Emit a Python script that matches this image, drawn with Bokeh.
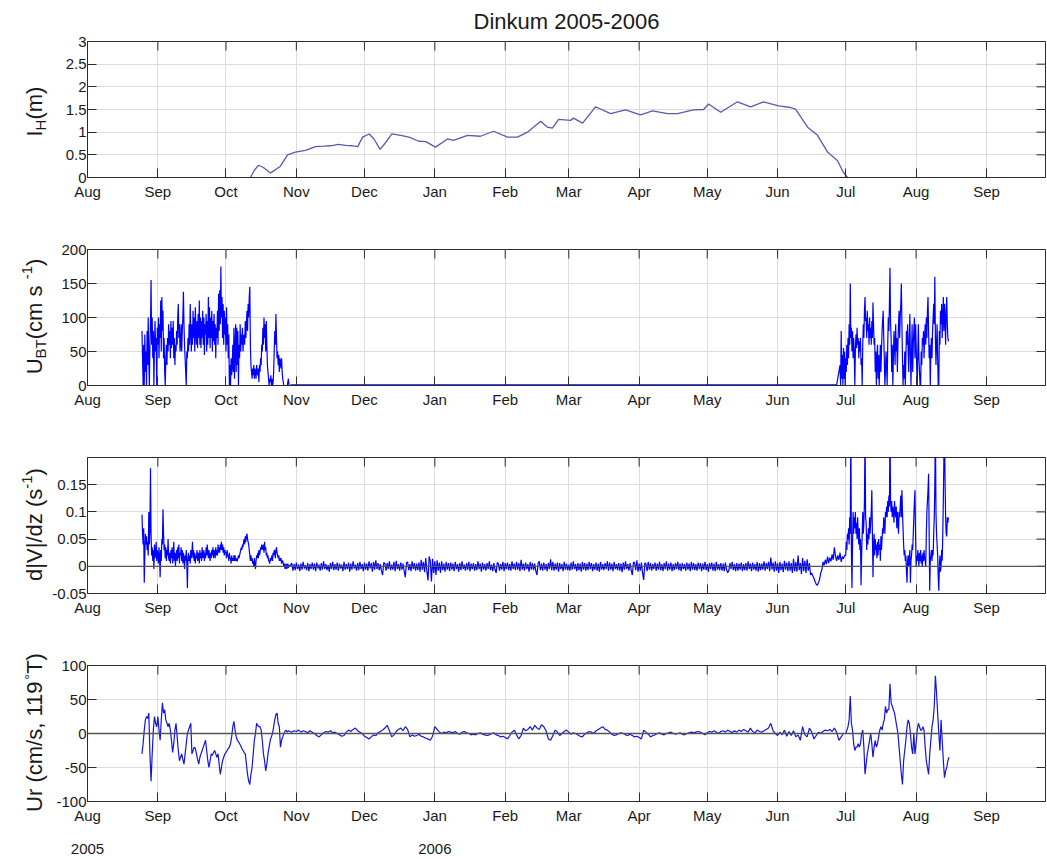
import math
import numpy as np
from bokeh.plotting import figure
from bokeh.models import Range1d, FixedTicker, LinearAxis, Span, PrintfTickFormatter
from bokeh.layouts import column, row
from bokeh.embed import file_html
from bokeh.resources import INLINE
from bokeh.core.properties import value

# ---------------- data (time in days since 1 Aug 2005) ----------------
month_days = [0, 31, 61, 92, 122, 153, 184, 212, 243, 273, 304, 334, 365, 396]
month_labels = ["Aug", "Sep", "Oct", "Nov", "Dec", "Jan", "Feb", "Mar", "Apr",
                "May", "Jun", "Jul", "Aug", "Sep"]
year_days = [0, 153]
year_labels = ["2005", "2006"]
x_start, x_end = 0.0, 422.0

title_text = "Dinkum 2005-2006"

# Panel 1: ice thickness I_H (m)
ih_day = [71.8, 73.5, 75.3, 77.5, 80.6, 83.0, 85.0, 88.1, 91.6, 96.0, 100.4, 104.0,
          107.0, 110.5, 113.7, 116.7, 119.0, 121.2, 124.1, 126.2, 128.9, 131.0, 134.1,
          138.0, 141.6, 146.0, 149.0, 153.3, 158.6, 161.2, 167.4, 173.1, 178.9, 185.0,
          189.4, 193.8, 199.6, 202.6, 204.8, 207.5, 212.8, 214.1, 218.1, 223.8, 230.4,
          237.0, 243.6, 248.9, 255.5, 259.9, 266.9, 271.4, 273.6, 278.9, 286.3, 292.1,
          297.8, 304.4, 309.0, 311.9, 317.2, 321.6, 326.0, 330.4, 333.0, 334.8]
ih_m = [0.0, 0.16, 0.27, 0.22, 0.10, 0.18, 0.25, 0.50, 0.56, 0.60, 0.68, 0.69,
        0.70, 0.73, 0.71, 0.70, 0.68, 0.89, 0.96, 0.85, 0.62, 0.75, 0.96,
        0.93, 0.89, 0.80, 0.79, 0.67, 0.85, 0.82, 0.93, 0.91, 1.02, 0.89,
        0.89, 1.00, 1.24, 1.11, 1.09, 1.28, 1.26, 1.31, 1.20, 1.56, 1.41,
        1.49, 1.38, 1.47, 1.41, 1.41, 1.49, 1.50, 1.62, 1.44, 1.67, 1.56,
        1.67, 1.58, 1.55, 1.51, 1.11, 0.93, 0.56, 0.37, 0.11, 0.0]

# Panel 2: U_BT (cm/s)  -- burst 1 (6-hourly from day 24.0)
ubt_a_start, ubt_a_step = 24.0, 0.25
ubt_a = [80, 40, 0, 60, 0, 75, 20, 50, 0, 80, 30, 100, 40, 0, 60, 90,
         155, 60, 100, 40, 80, 0, 60, 95, 50, 70, 0, 85, 60, 100, 40, 90,
         70, 125, 50, 130, 80, 110, 40, 70, 20, 0, 40, 60, 30, 70, 50, 90,
         60, 80, 40, 95, 55, 85, 60, 95, 40, 70, 30, 60, 50, 80, 60, 100,
         120, 70, 90, 50, 60, 90, 50, 80, 100, 138, 90, 60, 40, 20, 0, 50,
         40, 70, 50, 90, 60, 120, 80, 50, 90, 60, 110, 70, 100, 50, 115, 80,
         60, 95, 55, 105, 70, 125, 60, 100, 55, 95, 70, 110, 60, 100, 45, 90,
         75, 105, 50, 95, 60, 130, 70, 115, 55, 100, 70, 110, 50, 95, 65, 105,
         60, 90, 40, 85, 70, 110, 60, 135, 80, 140, 90, 175, 100, 130, 70, 120,
         60, 110, 75, 100, 50, 115, 60, 90, 40, 75, 0, 30, 0, 40, 15, 30,
         60, 20, 85, 10, 50, 90, 20, 85, 30, 80, 0, 60, 40, 90, 50, 75,
         60, 85, 50, 70, 75, 60, 95, 70, 90, 110, 80, 120, 100, 130, 145, 60,
         30, 20, 10, 25, 15, 30, 10, 25, 20, 10, 30, 20, 15, 25, 5, 30,
         20, 40, 30, 60, 50, 85, 60, 100, 70, 90, 50, 95, 60, 30, 20, 10,
         0, 10, 5, 15, 0, 10, 0, 5, 20, 50, 80, 60, 105, 70, 40, 50,
         30, 45, 20, 40, 35, 25, 40, 20, 10, 5, 0, 0, 0, 0, 0, 0,
         0, 5, 10, 0, 0]
# quiet (ice-covered) period, every 10 days from day 90
ubt_q_start, ubt_q_step = 90.0, 10.0
ubt_q = [1, 1, 1, 1, 1, 1, 1, 1, 1, 1, 1, 1, 1, 1, 1, 1, 1, 1, 1, 1, 1, 1, 1, 1, 1]
# burst 2 (6-hourly from day 331.5)
ubt_b_start, ubt_b_step = 331.5, 0.25
ubt_b = [30, 0,
         80, 10, 45, 0, 55, 10, 50, 0, 40, 20, 60, 30, 70, 40, 90, 60,
         150, 70, 85, 50, 80, 40, 70, 50, 0, 50, 75, 55, 85, 60, 70, 40,
         65, 50, 70, 30, 40, 0, 60, 90, 70, 110, 130, 95, 100, 70, 110, 80,
         90, 60, 100, 70, 85, 60, 95, 70, 122, 90, 60, 70, 20, 50, 0, 40,
         60, 10, 45, 0, 30, 60, 20, 50, 80, 95, 110, 70, 40, 0, 20, 50,
         30, 0, 60, 100, 80, 120, 173, 90, 70, 20, 60, 0, 40, 80, 60, 30,
         90, 50, 70, 20, 60, 90, 110, 70, 100, 120, 150, 90, 40, 0, 30, 10,
         50, 0, 40, 80, 60, 90, 50, 20, 70, 105, 40, 0, 50, 90, 20, 60,
         80, 100, 40, 90, 60, 30, 0, 50, 90, 40, 20, 0, 0, 50, 30, 70,
         60, 80, 40, 70, 90, 60, 100, 70, 110, 130, 80, 40, 60, 0, 50, 70,
         40, 80, 100, 120, 90, 160, 70, 30, 60, 90, 40, 0, 0, 80, 60, 110,
         90, 120, 70, 100, 130, 80, 120, 100, 60, 110, 130, 90,
         70, 65]

# Panel 3: d|V|/dz in units of 1e-3 s^-1
dvdz_a_start, dvdz_a_step = 24.0, 0.25
dvdz_a = [95, 60, 40, 70, -30, 20, 60, 40, 55, 30, 45, 20, 100, 40, 70, 180,
          60, 20, 35, 10, 30, -5, 40, 15, 25, 45, 10, 30, 20, 5, 35, 15,
          -20, 30, 10, 50, 40, 105, 60, 30, 40, 15, 35, 10, 30, 20, 50, 15,
          10, 25, 5, 30, 15, 35, 5, 20, 45, 10, 25, 0, 20, 30, 10, 35,
          15, 40, 5, 25, 20, 35, 10, 30, 5, 25, 15, -5, 20, 10, 30, 5,
          -40, 15, 25, 10, 20, 5, 30, 15, 25, 45, 15, 30, 10, 25, 5, 20,
          15, 30, 10, 25, 20, 5, 30, 15, 25, 10, 35, 15, 20, 30, 10, 25,
          15, 35, 20, 40, 25, 15, 30, 20, 10, 25, 15, 30, 20, 35, 15, 30,
          25, 15, 35, 20, 30, 20, 40, 25, 35, 25, 40, 30, 45, 30, 40, 25,
          35, 20, 30, 25, 25, 15, 30, 20, 20, 10, 25, 15, 15, 5, 20, 10,
          15, 10, 20, 10, 20, 10, 15, 10, 10, 15, 20, 15, 20, 25, 30, 35,
          30, 40, 35, 45, 50, 40, 55, 45, 55, 60, 50, 45, 40, 30, 20, 10,
          20, 10, 15, 5, 10, 0, 15, 5, -5, 10, 20, 15, 25, 15, 30, 20,
          25, 35, 30, 40, 35, 30, 40, 25, 45, 30, 35, 20, 25, 15, 20, 10,
          10, 5, 15, 10, 15, 20, 10, 25, 20, 30, 25, 15, 30, 35, 25, 20,
          15, 20, 10, 15, 10, 15, 5, 10, 10, 5, 0, 5, -5, 0, 5, -5,
          0, 5, -3, 2, 0]
dvdz_b_start, dvdz_b_step = 90.0, 0.5
dvdz_b = [6, -8, 4, -7, 7, -5, 3, -9, 5, -6, 8, -4, 2, -7, 6, -9, 4, -5, 7, -6,
          5, -9, 7, -4, 3, -8, 6, -6, 9, -5, 4, -7, 2, -10, 6, -5, 8, -7, 4, -6,
          7, -8, 5, -4, 3, -9, 8, -6, 4, -5, 7, -10, 5, -6, 9, -4, 3, -8, 6, -7,
          8, -5, 4, -9, 7, -6, 5, -8, 9, -4, 6, -10, 8, -6, 11, -5, 6, -7, 4, -9,
          -16, 7, 5, -8, 6, -5, 9, -7, 3, -6, 8, -9, 10, -5, 4, -8, 7, -6, 5, -9,
          -20, 6, 8, -7, 4, -9, 9, -5, 6, -8, 5, -7, 7, -10, 12, -6, 8, -11, 15, -9,
          -26, 18, 10, -28, 14, -12, 9, -16, 11, -8, 7, -12, 9, -7, 5, -10, 8, -6, 6, -9,
          7, -6, 5, -9, 8, -5, 4, -10, 6, -7, 9, -5, 3, -8, 6, -6, 8, -9, 5, -5,
          6, -8, 4, -7, 9, -5, 5, -10, 7, -6, 4, -8, 6, -5, 9, -7, 3, -9, 6, -6,
          -12, 7, 5, -8, 4, -6, 8, -9, 6, -5, 7, -7, 4, -8, 9, -5, 5, -7, 8, -6,
          6, -9, 12, -6, 5, -8, 7, -5, 4, -10, 8, -6, 6, -7, 5, -9, -16, 6, 9, -7,
          5, -8, 7, -6, 4, -9, 6, -5, 13, -7, 8, -8, 5, -6, 7, -10, 6, -5, 4, -9,
          8, -6, 5, -7, 3, -8, 7, -6, 9, -5, 4, -9, 6, -7, 5, -10, 8, -6, 6, -8,
          5, -7, 8, -5, 6, -9, 4, -6, 7, -8, 5, -10, 8, -6, 4, -7, 6, -5, 9, -8,
          7, -6, 5, -9, 8, -5, 4, -7, 6, -8, 5, -11, 7, -6, 9, -5, 4, -8, 6, -7,
          -16, 8, 6, -7, 11, -10, 5, -8, 7, -12, -25, 6, 5, -9, 8, -6, 6, -8, 4, -5,
          7, -8, 5, -6, 8, -7, 4, -9, 6, -5, 9, -8, 5, -6, 7, -9, 4, -7, 6, -5,
          8, -7, 5, -9, 6, -5, 4, -8, 7, -6, 5, -9, 8, -6, 6, -7, 4, -8, 7, -5,
          6, -9, 5, -6, 8, -7, 4, -10, 6, -5, 7, -8, 5, -9, 8, -6, 4, -7, 6, -8,
          5, -9, 7, -6, -12, -8, 6, -5, 8, -7, 4, -9, 6, -8, 5, -6, 7, -9, 4, -7,
          6, -8, 9, -5, 5, -9, 7, -6, 4, -8, 8, -10, 6, -7, 5, -6, 9, -8, 6, -5,
          8, -9, 16, -6, 7, -10, 9, -8, 6, -12, 8, -7, 5, -11, 10, -6, 7, -9, 9, -8,
          6, -12, 14, -9, 8, -10, 20, -7, 6, -14, 15, -9, 10, -12, 13, -8, 6, -16, -12, -18,
          -22, -28, -33, -35, -30, -24, -12, -6, 8, 2, 12, 4, 18, 6, 16, 9, 22, 12, 35, 18,
          10, 20, 12, 25, 8, 18, 14, 20]
dvdz_c_start, dvdz_c_step = 334.0, 0.25
dvdz_c = [20, 45, 30, 60, 50, 70, 40, 90, 60, 260, 30, -40, 40, 100, 60, 90,
          70, 100, 60, 80, 50, 90, 60, 40, 70, 30, 50, -35, 20, 60, 100, 60,
          80, 120, 250, 90, 80, 30, 60, 40, 70, 50, 90, 60, 80, 100, 140, 60,
          -20, 40, 60, 20, 50, 30, 40, 15, 45, 20, 50, 30, 40, 10, 55, 30,
          50, 70, 60, 90, 80, 60, 100, 90, 110, 90, 120, 100, 130, 110, 260, 120,
          100, 120, 90, 110, 100, 80, 120, 100, 90, 110, 70, 100, 80, 60, 100, 90,
          110, 130, 90, 140, 100, 70, 40, 20, 30, 10, 20, -10, -30, 10, 20, 0,
          15, 30, -30, 10, 20, 40, 30, 60, 90, 120, 140, 60, 0, 20, 10, 30,
          15, 0, 25, 10, 30, 5, 20, 0, 25, 10, 30, 15, 10, 0, 60, 100,
          120, 140, 170, 60, -45, 10, 20, 30, 10, 30, 20, 60, 90, 150, 260, 100,
          60, 40, 20, -20, -45, 0, 20, -10, 0, 30, 10, 60, 120, 200, 250, 160,
          90, 60, 55, 90, 80, 90]

# Panel 4: Ur (cm/s, toward 119 deg T)
ur_a_start, ur_a_step = 24.0, 0.5
ur_a = [-30, -15, 5, 20, 25, 22, 30, -30, -70, -30, 5, 25, 15, 10, 25, 5,
        -10, 20, 45, 30, 35, 20, 15, 10, 15, 5, -10, -28, -15, 5, 15, -5,
        -25, -40, -35, -30, -38, -45, -30, -15, 0, 5, 10, 15, -30, -25, -20, -22,
        -30, -38, -45, -35, -30, -25, -20, -15, -10, -25, -40, -50, -40, -30, -32, -28,
        -25, -30, -35, -30, -45, -60, -50, -40, -35, -30, -28, -25, -22, -20, -15, -5,
        10, 18, 5, -5, -10, -12, -15, -18, -22, -25, -28, -30, -45, -60, -70, -75,
        -60, -50, -30, -10, 0, 15, 12, 10, 10, 5, -10, -30, -40, -55, -45, -30,
        -20, -10, -5, 0, 10, 20, 28, 30, 15, 10, -20, -10, -5, 0, 3, 5,
        2, 4, 3]
ur_b_start, ur_b_step = 90.0, 1.0
ur_b = [2, 4, 3, 5, 2, 4, 3, 1, 4, 2,
        0, -3, -5, -2, 1, 3, 2, 4, 1, 2,
        0, -2, -4, -3, 2, 5, 3, 6, 8, 4,
        2, 0, -4, -6, -8, -5, -2, -3, 1, 3,
        5, 8, 12, 4, -5, -2, 3, 6, 8, 4,
        10, 6, -5, -2, -4, -3, -1, -4, -5, -7,
        -8, -10, -4, 10, 6, 2, 0, 2, 1, 3,
        2, 1, 3, 0, -1, 2, 3, 1, 0, -2,
        -1, -2, 0, 1, -1, -2, -3, -2, 0, 1,
        -2, -3, -5, -4, -6, -8, -3, 2, 5, -2,
        -8, -3, 8, 4, 6, 10, 5, 12, 8, 6,
        13, 10, 4, -8, -10, -3, 5, 2, -3, 0,
        3, 5, 2, -1, 1, 0, -2, -4, -5, -1,
        1, 3, 2, 0, 4, 6, 8, 10, 6, 5,
        2, -1, -3, -2, 0, 1, 0, -2, -3, -1,
        -3, -5, -4, -6, -8, 5, 2, -1, -5, -3,
        -2, 0, 1, -1, -2, 0, 1, 2, 0, -1,
        0, 1, -1, -2, 0, 1, 2, 1, 2, 3,
        2, 0, -2, 1, 3, 2, 4, 2, 0, 3,
        4, 2, 5, 3, 1, 4, 2, 5, 3, 6,
        4, 2, 8, 3, 1, 5, 3, 2, 4, 6,
        8, 15, 4, 0, -3, 2, -2, 5, -4, 3,
        -3, 4, -5, -2, -10, 10, -2, -5, 8, 2,
        -8, -3, 2, 0, 3, 5, 4, 6, 3, 8,
        2, -10, -5, 0]
ur_c_start, ur_c_step = 334.0, 0.5
ur_c = [0, 5, 10, 20, 55, 15, 5, -15, -25, -20, -20, -15, -20, -15, 0, 5,
        -20, -60, -45, -30, -20, -10, 0, -15, -35, -20, -10, -20, -15, -5, 5, 10,
        5, 15, 20, 40, 30, 35, 35, 73, 45, 40, 35, 30, 20, 10, 0, -20,
        -40, -60, -75, -40, -25, -10, 10, 20, 15, 0, -20, -30, 0, -30, -15, 5,
        15, 10, 5, 5, 10, 5, -20, -40, -50, -60, -30, -10, 10, 20, 40, 85,
        60, 30, 0, -25, 20, -10, -40, -65, -55, -50, -40, -35]

# axis settings
ih_range, ih_ticks = (0, 3), [0, 0.5, 1, 1.5, 2, 2.5, 3]
ubt_range, ubt_ticks = (0, 200), [0, 50, 100, 150, 200]
dvdz_range, dvdz_ticks = (-0.05, 0.2), [-0.05, 0, 0.05, 0.1, 0.15]
ur_range, ur_ticks = (-100, 100), [-100, -50, 0, 50, 100]

ylabel_runs = [
    [("I", 22, 0), ("H", 15, 6), (" (m)", 22, 0)],
    [("U", 22, 0), ("BT", 15, 6), (" (cm s", 22, 0), ("-1", 15, -8), (")", 22, 0)],
    [("d|V|/dz (s", 22, 0), ("-1", 15, -8), (")", 22, 0)],
    [("Ur (cm/s, 119", 22, 0), ("°", 15, -5), ("T)", 22, 0)],
]


def series(start, step, vals, scale=1.0):
    d = start + step * np.arange(len(vals))
    return d, np.asarray(vals, dtype=float) * scale


# ---------------- styling / layout ----------------
FONT = "Liberation Sans"
LW = 48                 # width of the y-label strip
FW, FH = 958, 136       # frame size
BORDER_L, BORDER_R = 39, 1
TOPS = [40, 36, 36, 36]
BOTTOMS = [36, 36, 36, 58]
AXC = "#2b2b2b"
GRIDC = "#dcdcdc"
TXT = "#1a1a1a"
TICK = 9

AW = {' ': 278, '(': 333, ')': 333, '/': 278, '|': 260, ',': 278, '-': 333, '°': 400,
      'B': 667, 'D': 722, 'H': 722, 'I': 278, 'T': 611, 'U': 722, 'V': 667,
      'c': 500, 'd': 556, 'm': 833, 'r': 333, 's': 500, 'z': 500, 'o': 556}


def tw(s, size):
    return sum(AW.get(ch, 556) for ch in s) * size / 1000.0


def make_panel(yr, yticks, top, bottom):
    p = figure(frame_width=FW, frame_height=FH, x_range=Range1d(x_start, x_end),
               y_range=Range1d(*yr), output_backend="svg", toolbar_location=None,
               min_border_left=BORDER_L, min_border_right=BORDER_R,
               min_border_top=top, min_border_bottom=bottom)
    p.background_fill_color = "white"
    p.border_fill_color = "white"
    p.outline_line_color = AXC
    p.outline_line_width = 1
    for ax in (p.xaxis[0], p.yaxis[0]):
        ax.major_tick_in = TICK
        ax.major_tick_out = 0
        ax.minor_tick_in = 0
        ax.minor_tick_out = 0
        ax.axis_line_color = AXC
        ax.major_tick_line_color = AXC
        ax.major_label_text_font = FONT
        ax.major_label_text_font_size = "15px"
        ax.major_label_text_color = TXT
    p.xaxis.ticker = FixedTicker(ticks=month_days)
    p.xaxis.major_label_overrides = {d: m for d, m in zip(month_days, month_labels)}
    p.xaxis.major_label_standoff = 5
    p.yaxis.ticker = FixedTicker(ticks=yticks)
    p.yaxis.formatter = PrintfTickFormatter(format="%g")
    p.yaxis.major_label_standoff = 1
    p.xgrid.grid_line_color = GRIDC
    p.ygrid.grid_line_color = GRIDC
    # inward ticks on the top and right edges of the box
    y0, y1 = yr
    dy = (y1 - y0) * TICK / FH
    dx = (x_end - x_start) * TICK / FW
    p.segment(x0=month_days, y0=[y1] * len(month_days), x1=month_days,
              y1=[y1 - dy] * len(month_days), line_color=AXC, line_width=1)
    p.segment(x0=[x_end] * len(yticks), y0=yticks, x1=[x_end - dx] * len(yticks),
              y1=yticks, line_color=AXC, line_width=1)
    return p


# ---------------- panels ----------------
p1 = make_panel(ih_range, ih_ticks, TOPS[0], BOTTOMS[0])
p1.title.text = title_text
p1.title.align = "center"
p1.title.vertical_align = "middle"
p1.title.text_font = FONT
p1.title.text_font_size = "22px"
p1.title.text_font_style = "normal"
p1.title.text_color = TXT
p1.title.standoff = 14
p1.line(ih_day, ih_m, line_color="#5a5ab0", line_width=1.3)

p2 = make_panel(ubt_range, ubt_ticks, TOPS[1], BOTTOMS[1])
da, va = series(ubt_a_start, ubt_a_step, ubt_a)
dq, vq = series(ubt_q_start, ubt_q_step, ubt_q)
db, vb = series(ubt_b_start, ubt_b_step, ubt_b)
p2.line(np.concatenate([da, dq, db]), np.concatenate([va, vq, vb]),
        line_color="#0000ff", line_width=1.2)

p3 = make_panel(dvdz_range, dvdz_ticks, TOPS[2], BOTTOMS[2])
d3a, v3a = series(dvdz_a_start, dvdz_a_step, dvdz_a, 1e-3)
d3b, v3b = series(dvdz_b_start, dvdz_b_step, dvdz_b, 1e-3)
d3c, v3c = series(dvdz_c_start, dvdz_c_step, dvdz_c, 1e-3)
p3.add_layout(Span(location=0, dimension="width", line_color="#555555", line_width=1.3))
p3.line(np.concatenate([d3a, d3b, d3c]), np.concatenate([v3a, v3b, v3c]),
        line_color="#0000ff", line_width=1.2)

p4 = make_panel(ur_range, ur_ticks, TOPS[3], BOTTOMS[3])
d4a, v4a = series(ur_a_start, ur_a_step, ur_a)
d4b, v4b = series(ur_b_start, ur_b_step, ur_b)
d4c, v4c = series(ur_c_start, ur_c_step, ur_c)
p4.add_layout(Span(location=0, dimension="width", line_color="#555555", line_width=1.3))
p4.line(np.concatenate([d4a, d4b, d4c]), np.concatenate([v4a, v4b, v4c]),
        line_color="#1515d8", line_width=1.2)

# year labels as a second axis below the month axis
year_ax = LinearAxis(ticker=FixedTicker(ticks=year_days),
                     major_label_overrides={d: t for d, t in zip(year_days, year_labels)},
                     major_tick_in=0, major_tick_out=0, minor_tick_in=0, minor_tick_out=0,
                     major_tick_line_color=None, minor_tick_line_color=None,
                     axis_line_color=None, major_label_standoff=17,
                     major_label_text_font=FONT, major_label_text_font_size="15px",
                     major_label_text_color=TXT)
p4.add_layout(year_ax, "below")

# ---------------- y-label strip (pixel coordinates) ----------------
heights = [t + FH + b for t, b in zip(TOPS, BOTTOMS)]
H_total = sum(heights)
lab = figure(width=LW, height=H_total, x_range=Range1d(0, LW), y_range=Range1d(0, H_total),
             output_backend="svg", toolbar_location=None, min_border=0,
             x_axis_location=None, y_axis_location=None)
lab.outline_line_color = None
lab.grid.visible = False
lab.background_fill_color = "white"
lab.border_fill_color = "white"
BASE_X = 34
acc = 0
for i, runs in enumerate(ylabel_runs):
    center_page = acc + TOPS[i] + FH / 2.0
    acc += heights[i]
    yc = H_total - center_page
    total = sum(tw(t, s) for t, s, _ in runs)
    y = yc - total / 2.0
    for t, s, shift in runs:
        lab.text(x=[BASE_X + shift], y=[y], text=[t], angle=math.pi / 2,
                 text_align="left", text_baseline="alphabetic",
                 text_font=value(FONT), text_font_size=value(f"{s}px"),
                 text_color=TXT)
        y += tw(t, s)

layout = row(lab, column(p1, p2, p3, p4, spacing=0), spacing=0)
open("out.html", "w").write(file_html(layout, INLINE))
